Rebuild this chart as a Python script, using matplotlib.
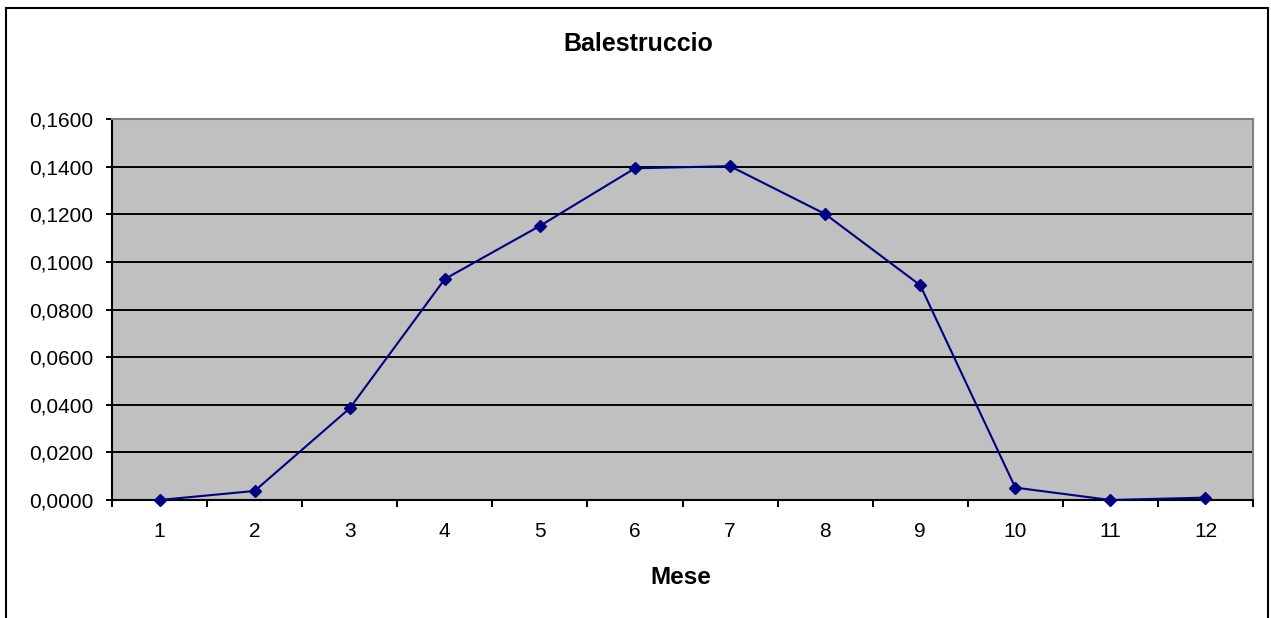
import matplotlib
matplotlib.use("Agg")
import matplotlib.pyplot as plt
from matplotlib.patches import Rectangle
from matplotlib.ticker import FuncFormatter, FixedLocator

months = [1, 2, 3, 4, 5, 6, 7, 8, 9, 10, 11, 12]
values = [0.0, 0.0038, 0.0385, 0.0928, 0.1151, 0.1393, 0.1402, 0.1201, 0.0902, 0.0052, 0.0, 0.0010]
yticks = [0.0, 0.02, 0.04, 0.06, 0.08, 0.10, 0.12, 0.14, 0.16]
title = "Balestruccio"
xlabel = "Mese"

plt.rcParams['font.family'] = ['Liberation Sans', 'DejaVu Sans']

W, H = 1271, 618
fig = plt.figure(figsize=(W / 100, H / 100), dpi=100)
fig.patch.set_facecolor('white')

# outer frame
fig.patches.append(Rectangle((6 / W, -0.01), (1268 - 6) / W, (H - 8) / H + 0.01,
                             transform=fig.transFigure, fill=False,
                             edgecolor='black', linewidth=1.5))

left, right, top, bottom = 112, 1253, 119, 500
ax = fig.add_axes([left / W, 1 - bottom / H, (right - left) / W, (bottom - top) / H])
ax.set_facecolor('#c0c0c0')

ax.set_xlim(0.5, 12.5)
ax.set_ylim(0, 0.16)
for y in yticks[1:-1]:
    ax.axhline(y, color='black', linewidth=1.4, zorder=1)

ax.plot(months, values, color='#000080', linewidth=1.5, marker='D',
        markersize=6.3, markerfacecolor='#000080', markeredgecolor='#000080', zorder=3,
        clip_on=False)

ax.set_yticks(yticks)
ax.yaxis.set_major_formatter(FuncFormatter(lambda v, p: f"{v:.4f}".replace('.', ',')))
ax.set_xticks(months)
ax.set_xticklabels([str(m) for m in months])
ax.xaxis.set_minor_locator(FixedLocator([m + 0.5 for m in [0] + months]))
ax.tick_params(axis='x', which='major', length=0, pad=15.5, labelsize=15)
ax.tick_params(axis='x', which='minor', length=5, width=1.4, direction='out', color='black')
ax.tick_params(axis='y', length=4.5, width=1.4, direction='out', pad=9, labelsize=15)

ax.spines['left'].set_color('black')
ax.spines['bottom'].set_color('black')
ax.spines['left'].set_linewidth(1.5)
ax.spines['bottom'].set_linewidth(1.5)
ax.spines['top'].set_color('#808080')
ax.spines['right'].set_color('#808080')
ax.spines['top'].set_linewidth(1.5)
ax.spines['right'].set_linewidth(1.5)

fig.text(638.5 / W, 1 - 44 / H, title, ha='center', va='center', fontsize=18, fontweight='bold')
fig.text(681 / W, 1 - 577 / H, xlabel, ha='center', va='center', fontsize=17.5, fontweight='bold')

fig.savefig('out.png', dpi=100)
